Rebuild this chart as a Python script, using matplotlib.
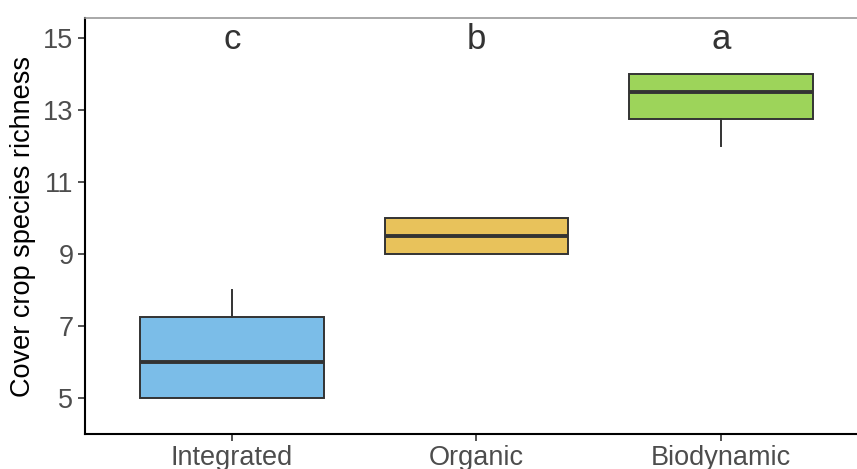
import matplotlib.pyplot as plt

plt.rcParams['font.family'] = ['Liberation Sans', 'DejaVu Sans']

# box statistics
systems = ['Integrated', 'Organic', 'Biodynamic']
q1 = [5, 9, 12.75]
med = [6, 9.5, 13.5]
q3 = [7.25, 10, 14]
whislo = [5, 9, 12]
whishi = [8, 10, 14]
colors = ['#7BBDE8', '#E8C25B', '#9DD45A']
letters = ['c', 'b', 'a']

stats = []
for i in range(len(systems)):
    stats.append({'label': systems[i], 'q1': q1[i], 'med': med[i], 'q3': q3[i],
                  'whislo': whislo[i], 'whishi': whishi[i], 'fliers': []})

fig = plt.figure(figsize=(8.57, 4.69), dpi=100)
ax = fig.add_axes([0.0995, 0.0746, 0.913, 0.887])

pos = list(range(1, len(systems) + 1))
bp = ax.bxp(stats, positions=pos, widths=0.75, patch_artist=True, showcaps=False,
            boxprops=dict(edgecolor='#333333', linewidth=1.4),
            medianprops=dict(color='#333333', linewidth=2.8),
            whiskerprops=dict(color='#333333', linewidth=1.4))
for patch, c in zip(bp['boxes'], colors):
    patch.set_facecolor(c)

for p, l in zip(pos, letters):
    ax.text(p, 14.95, l, ha='center', va='center', fontsize=25, color='#333333')

ax.set_xlim(0.4, 3.6)
ax.set_ylim(4.0, 15.56)
ax.set_yticks([5, 7, 9, 11, 13, 15])
ax.set_xticks(pos)
ax.set_xticklabels(systems)
ax.tick_params(axis='both', labelsize=19.5, labelcolor='#4D4D4D', color='#333333',
               length=5, width=1.2)
ax.tick_params(axis='x', pad=3)
ax.set_ylabel('Cover crop species richness', fontsize=19.5, color='black', labelpad=5)

ax.spines['right'].set_visible(False)
ax.spines['top'].set_color('#999999')
ax.spines['top'].set_linewidth(1.2)
ax.spines['left'].set_linewidth(1.5)
ax.spines['bottom'].set_linewidth(1.5)

fig.savefig('out.png', dpi=100)
